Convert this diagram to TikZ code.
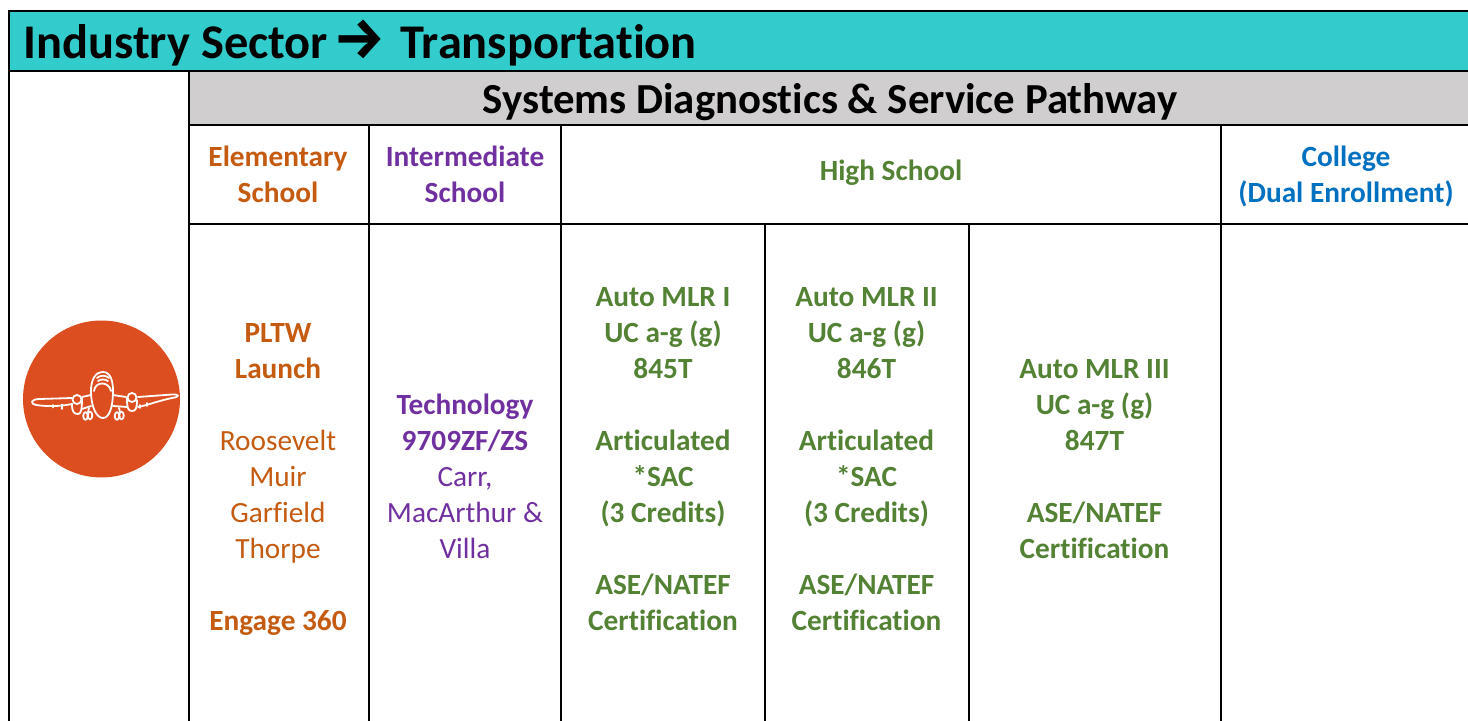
\documentclass[tikz,border=0pt]{standalone}
\usepackage{fontspec}
\setmainfont[Ligatures=NoCommon]{Carlito}
\newfontfamily\arrowfont{Fira Sans}
\definecolor{teal1}{HTML}{33CCCC}
\definecolor{grey1}{HTML}{D0CECE}
\definecolor{orange1}{HTML}{C55A11}
\definecolor{purple1}{HTML}{7030A0}
\definecolor{green1}{HTML}{548235}
\definecolor{blue1}{HTML}{0070C0}
\definecolor{disc}{HTML}{DC4E20}
\newcommand{\cellfont}{\fontsize{14.65}{18}\selectfont}
\tikzset{
  grid/.style={line width=1.1pt,black},
  cell/.style={align=center,font=\cellfont,inner sep=0pt},
  boldcell/.style={align=center,font=\cellfont\bfseries,inner sep=0pt},
  plane/.style={white,line width=0.9pt,line join=round,line cap=round},
}
\newcommand{\bb}{\bfseries}
\begin{document}
\begin{tikzpicture}[x=0.5pt,y=-0.5pt]
\useasboundingbox (0,0) rectangle (1468,721);
\fill[teal1] (9,11) rectangle (1468,71);
\fill[grey1] (189,71) rectangle (1468,125);
% grid
\draw[grid] (9,721) -- (9,11) -- (1468,11);
\draw[grid] (9,71) -- (1468,71);
\draw[grid] (189,125) -- (1468,125);
\draw[grid] (189,224) -- (1468,224);
\draw[grid] (189,71) -- (189,721);
\draw[grid] (369,125) -- (369,721);
\draw[grid] (561,125) -- (561,721);
\draw[grid] (1221,125) -- (1221,721);
\draw[grid] (765,224) -- (765,721);
\draw[grid] (969,224) -- (969,721);
% title
\node[anchor=base west,inner sep=0pt,font=\fontsize{24.2}{28}\selectfont\bfseries] (title) at (23,58.5) {Industry Sector};
\node[anchor=base,inner sep=0pt,font=\fontsize{29}{30}\selectfont\arrowfont\bfseries] (arrow) at (359.5,59) {→};
\node[anchor=base west,inner sep=0pt,font=\fontsize{24.2}{28}\selectfont\bfseries] (title2) at (400,58.5) {Transportation};
\node[anchor=base,inner sep=0pt,font=\fontsize{21.4}{24}\selectfont\bfseries] (pathway) at (830,113.5) {Systems Diagnostics \& Service Pathway};
% header
\node[boldcell,text=orange1] (h1) at (278,174.5) {Elementary\\School};
\node[boldcell,text=purple1] (h2) at (465,174.5) {Intermediate\\School};
\node[boldcell,text=green1] (h3) at (891,173) {High School};
\node[boldcell,text=blue1] (h4) at (1346,176) {College\\(Dual Enrollment)};
% body
\node[cell,text=orange1] (c1) at (278,479.5) {\bb PLTW\\\bb Launch\\~\\Roosevelt\\Muir\\Garfield\\Thorpe\\~\\\bb Engage 360};
\node[cell,text=purple1] (c2) at (465,476.5) {\bb Technology\\\bb 9709ZF/ZS\\Carr,\\MacArthur \&\\Villa};
\node[boldcell,text=green1] (c3) at (663,459.5) {Auto MLR I\\UC a-g (g)\\845T\\~\\Articulated\\*SAC\\(3 Credits)\\~\\ASE/NATEF\\Certification};
\node[boldcell,text=green1] (c4) at (866.5,459.5) {Auto MLR II\\UC a-g (g)\\846T\\~\\Articulated\\*SAC\\(3 Credits)\\~\\ASE/NATEF\\Certification};
\node[boldcell,text=green1] (c5) at (1094.5,459.5) {Auto MLR III\\UC a-g (g)\\847T\\~\\ASE/NATEF\\Certification};
% icon
\fill[disc] (101.5,399) circle (78.5);
\begin{scope}[plane]
 \draw (103,372) .. controls (94,372) and (91,382) .. (91,391) .. controls (91,408) and (97,418) .. (103,418) .. controls (109,418) and (113,408) .. (113,391) .. controls (113,382) and (111,372) .. (103,372) -- cycle;
 \draw (94,391) .. controls (95,381) and (109,381) .. (111,391);
 \draw (97,378) .. controls (100,375) and (106,375) .. (109,378);
 \draw (98,381) .. controls (101,379) and (105,379) .. (108,381);
 \draw (91,395) -- (82,397);
 \draw (113,395) -- (126,397);
 \draw (72,398) -- (40,399) .. controls (30,399) and (30,404) .. (36,405) .. controls (50,407) and (62,406) .. (72,404);
 \draw (138,397) -- (172,394.5) .. controls (180,394) and (180,397) .. (172,398) .. controls (158,401) and (148,405) .. (138,407);
 \draw (77,399.5) circle (4.5);
 \draw (132,397.5) circle (4.5);
 \draw (72,404) .. controls (72,412) and (74,414) .. (78,414) .. controls (81,414) and (82,410) .. (82,398);
 \draw (127,398) .. controls (127,408) and (128,411) .. (132,411) .. controls (136,411) and (137,408) .. (137,400);
 \draw (82,409) -- (91,406);
 \draw (113,406) -- (127,407);
 \draw (85.5,416) ellipse (2.3 and 3.8);
 \draw (90,415.5) ellipse (2.3 and 3.8);
 \draw (117,416) ellipse (2.3 and 3.8);
 \draw (121.5,415.5) ellipse (2.3 and 3.8);
 \draw (88,412) -- (89,408);
 \draw (120,412) -- (119,408);
 \draw (53,405) -- (53,407.5);
 \draw (62,404.5) -- (62,409);
 \draw (140,405) -- (140,408);
 \draw (147,403) -- (147,406);
\end{scope}
\end{tikzpicture}
\end{document}
